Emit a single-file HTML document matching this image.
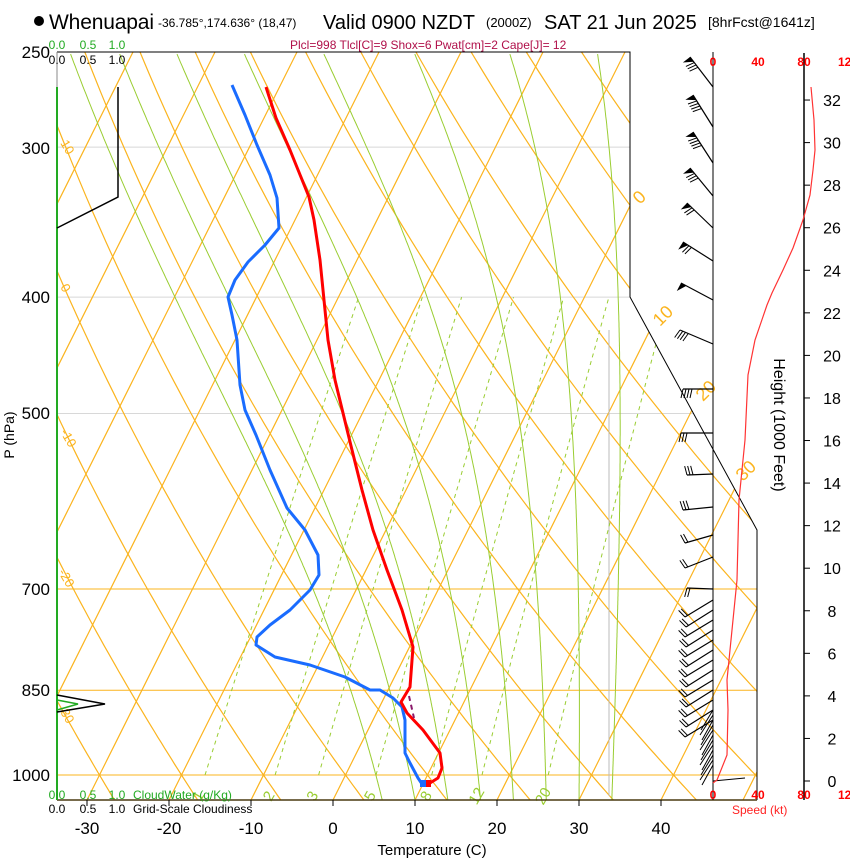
<!DOCTYPE html>
<html><head><meta charset="utf-8"><style>
html,body{margin:0;padding:0;background:#fff;}
svg{display:block;font-family:"Liberation Sans",sans-serif;}
</style></head><body>
<svg id="s" width="850" height="860" xmlns="http://www.w3.org/2000/svg">
<defs><clipPath id="cp"><polygon points="57,52 630,52 630,297 757,530 757,800 57,800"/></clipPath></defs>
<g id="grid" clip-path="url(#cp)"></g>
<g id="fg"></g>
</svg>
<script>
var NS="http://www.w3.org/2000/svg";
function el(parent,tag,attrs,text){var e=document.createElementNS(NS,tag);for(var k in attrs)e.setAttribute(k,attrs[k]);if(text!==undefined)e.textContent=text;parent.appendChild(e);return e;}
var G=document.getElementById('grid'),F=document.getElementById('fg');
function Y(p){return 775-521.5*Math.log(1000/p);}
function X(T,p){var y=Y(p);return 333+8.2*T+0.5*(800-y);}
var OR="#fbb41e",GR="#9acd32";
[[300,"#d8d8d8"],[400,"#d8d8d8"],[500,"#d8d8d8"],[700,OR],[850,OR],[1000,OR]].forEach(function(a){var y=Y(a[0]);el(G,'line',{x1:57,y1:y,x2:757,y2:y,stroke:a[1],'stroke-width':1});});
for(var T=-120;T<=50;T+=10){el(G,'line',{x1:333+8.2*T,y1:800,x2:333+8.2*T+374,y2:52,stroke:OR,'stroke-width':1.2});}
for(var th=-50;th<=160;th+=10){var pts=[];for(var p=1060;p>=240;p-=10){var t=(th+273.15)*Math.pow(p/1000,0.2857)-273.15;pts.push(X(t,p).toFixed(1)+","+Y(p).toFixed(1));}el(G,'polyline',{points:pts.join(" "),fill:"none",stroke:OR,'stroke-width':1.2});}
function es(T){return 6.112*Math.exp(17.67*T/(T+243.5));}
for(var T0=6;T0<=34;T0+=4){var t=T0,pts=[];for(var p=1049;p>=250;p-=2){pts.push(X(t,p).toFixed(1)+","+Y(p).toFixed(1));var e=es(t),rs=0.622*e/(p-e),Tk=t+273.15;var d=(287*Tk+2.5e6*rs)/(p*(1005+2.5e6*2.5e6*rs*0.622/(287*Tk*Tk)));t-=d*2;}el(G,'polyline',{points:pts.join(" "),fill:"none",stroke:GR,'stroke-width':1});}
el(G,'line',{x1:609,y1:330,x2:609,y2:796,stroke:"#bbb",'stroke-width':1});
[1,2,3,5,8,12,20].forEach(function(w){var pts=[];for(var p=1000;p>=400;p-=10){var e=w*p/(622+w),l=Math.log(e/6.112),td=243.5*l/(17.67-l);pts.push(X(td,p).toFixed(1)+","+Y(p).toFixed(1));}el(G,'polyline',{points:pts.join(" "),fill:"none",stroke:GR,'stroke-width':1,'stroke-dasharray':"4,4"});
 var e=w*1040/(622+w),l=Math.log(e/6.112),td=243.5*l/(17.67-l);var x=X(td,1040)+4,y=Y(1040)+3;el(F,'text',{x:x,y:y,fill:GR,'font-size':15,transform:"rotate(-60 "+x+" "+y+")",'text-anchor':"middle"},String(w));});
el(F,'polyline',{points:"57,52 630,52 630,297 757,530 757,800",fill:"none",stroke:"#000",'stroke-width':1});
el(F,'line',{x1:57,y1:800,x2:757,y2:800,stroke:"#4a3a10",'stroke-width':1.5});
el(F,'line',{x1:57,y1:52,x2:57,y2:800,stroke:"#888",'stroke-width':1});
el(F,'line',{x1:57,y1:87,x2:57,y2:800,stroke:"#22aa22",'stroke-width':2});
[["0",640,205],["10",660,327],["20",703,402],["30",743,482]].forEach(function(a){el(F,'text',{x:a[1],y:a[2],fill:OR,'font-size':18,transform:"rotate(-45 "+a[1]+" "+a[2]+")"},a[0]);});
[["10",60,143],["0",60,287],["-10",60,432],["-20",58,572],["30",60,712]].forEach(function(a){el(F,'text',{x:a[1],y:a[2],fill:OR,'font-size':13,transform:"rotate(60 "+a[1]+" "+a[2]+")"},a[0]);});
el(F,'polyline',{points:"118,87 118,197 57,228",fill:"none",stroke:"#000",'stroke-width':1.5});
el(F,'polyline',{points:"57,695 105,704 57,712",fill:"none",stroke:"#000",'stroke-width':1.5});
el(F,'polyline',{points:"57,700 78,704 57,710",fill:"none",stroke:"#22aa22",'stroke-width':1.5});
var red="266,87 276,118 290,150 309,197 314,220 320,260 324,300 328,340 335,380 343,413 352,450 362,490 373,530 387,570 402,610 413,647 410,687 401,702 407,713 423,730 440,753 442,768 438,778 430,783 427,784";
var blue="232,85 245,115 257,145 270,175 277,198 279,228 265,245 248,262 235,280 228,297 232,315 237,340 240,385 245,410 256,435 270,470 287,508 305,530 318,555 319,575 310,590 290,610 270,625 257,637 256,645 275,657 310,665 345,677 370,690 380,690 393,698 402,707 405,720 405,753 410,763 418,778 422,784";
el(F,'polyline',{points:blue,fill:"none",stroke:"#1a6cff",'stroke-width':3,'stroke-linejoin':"round"});
el(F,'polyline',{points:red,fill:"none",stroke:"#ff0000",'stroke-width':3,'stroke-linejoin':"round"});
el(F,'line',{x1:409,y1:696,x2:414,y2:718,stroke:"#8b1a6b",'stroke-width':2,'stroke-dasharray':"5,4"});
el(F,'rect',{x:420,y:780,width:7,height:7,fill:"#1a6cff"});el(F,'rect',{x:426,y:780,width:5,height:7,fill:"#ff0000"});
el(F,'line',{x1:713,y1:52,x2:713,y2:800,stroke:"#000",'stroke-width':1});
el(F,'line',{x1:804,y1:53,x2:804,y2:800,stroke:"#000",'stroke-width':1.5});
function barb(y,tx,ty,n,flag){var bx=713;el(F,'line',{x1:bx,y1:y,x2:tx,y2:ty,stroke:"#000",'stroke-width':1.2});var dx=tx-bx,dy=ty-y,L=Math.sqrt(dx*dx+dy*dy),ux=dx/L,uy=dy/L,px=uy,py=-ux;if(px>0){px=-px;py=-py;}
 var pos=0;if(flag){el(F,'polygon',{points:tx+","+ty+" "+(tx-ux*6)+","+(ty-uy*6)+" "+(tx+px*9)+","+(ty+py*9),fill:"#000"});pos=7;}
 for(var i=0;i<n;i++){var sx=tx-ux*(pos+i*3),sy=ty-uy*(pos+i*3);el(F,'line',{x1:sx,y1:sy,x2:sx+px*9+ux*2,y2:sy+py*9+uy*2,stroke:"#000",'stroke-width':1});}}
barb(87,690,57,3,1);barb(127,693,95,4,1);barb(163,693,132,4,1);barb(196,690,168,3,1);barb(228,687,203,2,1);barb(261,683,242,2,1);barb(300,681,283,0,1);
barb(344,680,330,4,0);barb(389,683,389,4,0);barb(433,681,433,3,0);barb(474,687,475,3,0);barb(507,683,510,3,0);barb(535,685,543,2,0);barb(557,685,568,2,0);barb(589,687,588,2,0);
for(var y=600;y<=720;y+=10){barb(y,685+((y/10)%2),y+17,2,0);}
for(var y=730;y<=785;y+=5){el(F,'line',{x1:713,y1:y-20,x2:700+(y%3),y2:y,stroke:"#000",'stroke-width':1});}
el(F,'line',{x1:713,y1:781,x2:745,y2:778,stroke:"#000",'stroke-width':1});
el(F,'polyline',{points:"811,87 814,120 815,150 813,170 810,195 803,220 793,248 783,270 772,293 767,305 755,340 748,375 745,440 741,480 739,500 737,580 730,650 727,680 728,710 727,755 717,780 713,783",fill:"none",stroke:"#ff3333",'stroke-width':1.2});
[["0",713],["40",758],["80",804],["120",848]].forEach(function(a){el(F,'text',{x:a[1],y:66,fill:"#ff0000",'font-size':12,'font-weight':"bold",'text-anchor':"middle"},a[0]);el(F,'text',{x:a[1],y:799,fill:"#ff0000",'font-size':12,'font-weight':"bold",'text-anchor':"middle"},a[0]);});
el(F,'text',{x:732,y:814,fill:"#ff2222",'font-size':12},"Speed (kt)");
for(var h=0;h<=32;h+=2){var y=781-21.28*h;el(F,'line',{x1:804,y1:y,x2:810,y2:y,stroke:"#000"});el(F,'text',{x:832,y:y+6,'font-size':16,'text-anchor':"middle"},String(h));}
el(F,'text',{x:774,y:425,'font-size':16,'text-anchor':"middle",transform:"rotate(90 774 425)"},"Height (1000 Feet)");
[[250,52],[300,148],[400,297],[500,413],[700,589],[850,690],[1000,775]].forEach(function(a){el(F,'text',{x:50,y:a[1]+6,'font-size':17,'text-anchor':"end"},String(a[0]));});
el(F,'text',{x:14,y:435,'font-size':14,'text-anchor':"middle",transform:"rotate(-90 14 435)"},"P (hPa)");
for(var T=-30;T<=40;T+=10){var x=333+8.2*T;el(F,'line',{x1:x,y1:800,x2:x,y2:806,stroke:"#000"});el(F,'text',{x:x,y:834,'font-size':17,'text-anchor':"middle"},String(T));}
el(F,'text',{x:432,y:855,'font-size':15,'text-anchor':"middle"},"Temperature (C)");
[["0.0",57],["0.5",88],["1.0",117]].forEach(function(a){el(F,'text',{x:a[1],y:49,fill:"#22aa22",'font-size':12,'text-anchor':"middle"},a[0]);el(F,'text',{x:a[1],y:64,'font-size':12,'text-anchor':"middle"},a[0]);el(F,'text',{x:a[1],y:799,fill:"#22aa22",'font-size':12,'text-anchor':"middle"},a[0]);el(F,'text',{x:a[1],y:813,'font-size':12,'text-anchor':"middle"},a[0]);});
el(F,'text',{x:133,y:799,fill:"#22aa22",'font-size':12},"CloudWater (g/Kg)");
el(F,'text',{x:133,y:813,'font-size':12},"Grid-Scale Cloudiness");
el(F,'circle',{cx:39,cy:21,r:5,fill:"#000"});
el(F,'text',{x:49,y:29,'font-size':21,textLength:105},"Whenuapai");
el(F,'text',{x:158,y:27,'font-size':12},"-36.785°,174.636° (18,47)");
el(F,'text',{x:323,y:29,'font-size':20},"Valid 0900 NZDT");
el(F,'text',{x:486,y:27,'font-size':13},"(2000Z)");
el(F,'text',{x:544,y:29,'font-size':20},"SAT 21 Jun 2025");
el(F,'text',{x:708,y:27,'font-size':14},"[8hrFcst@1641z]");
el(F,'text',{x:290,y:49,fill:"#b0104a",'font-size':12},"Plcl=998 Tlcl[C]=9 Shox=6 Pwat[cm]=2 Cape[J]= 12");
</script>
</body></html>
